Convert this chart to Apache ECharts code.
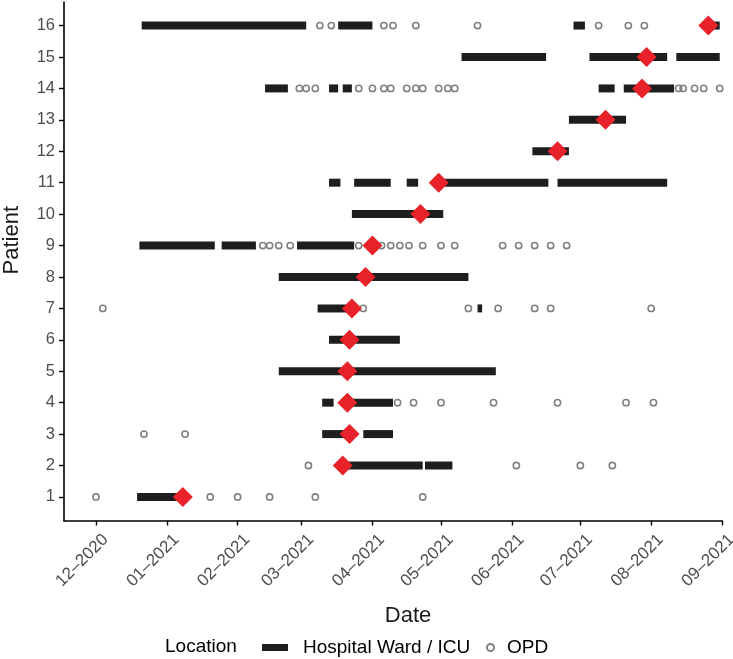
<!DOCTYPE html>
<html><head><meta charset="utf-8">
<script src="https://cdn.jsdelivr.net/npm/echarts@6/dist/echarts.min.js"></script>
<style>html,body{margin:0;padding:0;background:#fff}#c{width:733px;height:659px}</style>
</head><body><div id="c"></div>
<script>
// ---- tick labels / categories ----
const tickDates = ['2020-12-01','2021-01-01','2021-02-01','2021-03-01','2021-04-01','2021-05-01','2021-06-01','2021-07-01','2021-08-01','2021-09-01'];
const tickLabels = ['12–2020','01–2021','02–2021','03–2021','04–2021','05–2021','06–2021','07–2021','08–2021','09–2021'];
const patients = [1,2,3,4,5,6,7,8,9,10,11,12,13,14,15,16];

// ---- Hospital Ward / ICU stays ----
const wardPatient = [16,16,16,16, 15,15,15, 14,14,14,14,14, 13, 12, 11,11,11,11,11, 10, 9,9,9, 8, 7,7, 6, 5, 4,4, 3,3, 2,2, 1];
const wardStart = ['2020-12-21','2021-03-17','2021-06-28','2021-08-24',
  '2021-05-10','2021-07-05','2021-08-12',
  '2021-02-13','2021-03-13','2021-03-19','2021-07-09','2021-07-20',
  '2021-06-26','2021-06-10',
  '2021-03-13','2021-03-24','2021-04-16','2021-04-29','2021-06-21',
  '2021-03-23',
  '2020-12-20','2021-01-25','2021-02-27',
  '2021-02-19',
  '2021-03-08','2021-05-17',
  '2021-03-13','2021-02-19',
  '2021-03-10','2021-03-22',
  '2021-03-10','2021-03-28',
  '2021-03-17','2021-04-24',
  '2020-12-19'];
const wardEnd = ['2021-03-03','2021-04-01','2021-07-03','2021-08-31',
  '2021-06-16','2021-08-08','2021-08-31',
  '2021-02-23','2021-03-17','2021-03-23','2021-07-16','2021-08-11',
  '2021-07-21','2021-06-26',
  '2021-03-18','2021-04-09','2021-04-21','2021-06-17','2021-08-08',
  '2021-05-02',
  '2021-01-22','2021-02-09','2021-03-24',
  '2021-05-13',
  '2021-03-24','2021-05-19',
  '2021-04-13','2021-05-25',
  '2021-03-15','2021-04-10',
  '2021-03-23','2021-04-10',
  '2021-04-23','2021-05-06',
  '2021-01-09'];

// ---- OPD visits ----
const opdPatient = [
  16,16,16,16,16,16,16,16,16,
  14,14,14,14,14,14,14,14,14,14,14,14,14,14,14,14,14,14,
  9,9,9,9,9,9,9,9,9,9,9,9,9,9,9,9,9,
  7,7,7,7,7,7,7,
  4,4,4,4,4,4,4,
  3,3,
  2,2,2,2,
  1,1,1,1,1,1];
const opdDate = [
  '2021-03-09','2021-03-14','2021-04-06','2021-04-10','2021-04-20','2021-05-17','2021-07-09','2021-07-22','2021-07-29',
  '2021-02-28','2021-03-03','2021-03-07','2021-03-26','2021-04-01','2021-04-06','2021-04-09','2021-04-16','2021-04-20','2021-04-23','2021-04-30','2021-05-04','2021-05-07','2021-08-13','2021-08-15','2021-08-20','2021-08-24','2021-08-31',
  '2021-02-12','2021-02-15','2021-02-19','2021-02-24','2021-03-26','2021-04-05','2021-04-09','2021-04-13','2021-04-17','2021-04-23','2021-05-01','2021-05-07','2021-05-28','2021-06-04','2021-06-11','2021-06-18','2021-06-25',
  '2020-12-04','2021-03-28','2021-05-13','2021-05-26','2021-06-11','2021-06-18','2021-08-01',
  '2021-04-12','2021-04-19','2021-05-01','2021-05-24','2021-06-21','2021-07-21','2021-08-02',
  '2020-12-22','2021-01-09',
  '2021-03-04','2021-06-03','2021-07-01','2021-07-15',
  '2020-12-01','2021-01-20','2021-02-01','2021-02-15','2021-03-07','2021-04-23'];

// ---- red diamond markers ----
const markPatient = [16,15,14,13,12,11,10,9,8,7,6,5,4,3,2,1];
const markDate = ['2021-08-26','2021-07-30','2021-07-28','2021-07-12','2021-06-21','2021-04-30','2021-04-22','2021-04-01','2021-03-29','2021-03-23','2021-03-22','2021-03-21','2021-03-21','2021-03-22','2021-03-19','2021-01-08'];

function D(s){const p=s.split('-').map(Number);return new Date(p[0],p[1]-1,p[2]).getTime();}
const tickValues = tickDates.map(D);
const FONT = "'Liberation Sans', Arial, Helvetica, sans-serif";

const chart = echarts.init(document.getElementById('c'), null, {renderer:'canvas'});
chart.setOption({
  animation:false,
  backgroundColor:'#fff',
  grid:{left:64,right:11,top:2,bottom:138.5,containLabel:false,outerBoundsMode:'none'},
  xAxis:{
    type:'value', min:D('2020-11-17'), max:D('2021-09-01'),
    name:'Date', nameLocation:'middle', nameGap:84,
    nameTextStyle:{fontSize:22,color:'#1a1a1a',fontFamily:FONT,padding:[0,0,0,30]},
    axisLine:{show:true,lineStyle:{color:'#000',width:1.6}},
    axisTick:{show:true,length:5,lineStyle:{color:'#000',width:1.4},customValues:tickValues},
    axisLabel:{customValues:tickValues,rotate:45,margin:7,fontSize:17,color:'#4d4d4d',fontFamily:FONT,
      verticalAlign:'top',padding:[5,0,0,0],
      formatter:function(v){const i=tickValues.indexOf(v);return i>=0?tickLabels[i]:'';}},
    splitLine:{show:false}
  },
  yAxis:{
    type:'value', min:0.25, max:16.75,
    name:'Patient', nameLocation:'middle', nameGap:41,
    nameTextStyle:{fontSize:22,color:'#1a1a1a',fontFamily:FONT,padding:[0,0,0,42]},
    axisLine:{show:true,lineStyle:{color:'#000',width:1.6}},
    axisTick:{show:true,length:5,lineStyle:{color:'#000',width:1.4},customValues:patients},
    axisLabel:{customValues:patients,margin:9,fontSize:16.5,color:'#4d4d4d',fontFamily:FONT},
    splitLine:{show:false}
  },
  legend:[
    {data:['Hospital Ward / ICU'],left:262,top:638,padding:0,itemWidth:26,itemHeight:7,icon:'rect',
      textStyle:{fontSize:19,color:'#000',fontFamily:FONT,padding:[0,0,0,10]}},
    {data:[{name:'OPD',icon:'circle'}],left:486,top:638,padding:0,itemWidth:7,itemHeight:7,
      textStyle:{fontSize:19,color:'#000',fontFamily:FONT,padding:[0,0,0,8]}}
  ],
  graphic:[{type:'text',x:165,y:647,style:{text:'Location',fontSize:19,fontFamily:FONT,fill:'#000',verticalAlign:'middle'}}],
  series:[
    {
      name:'Hospital Ward / ICU', type:'custom', z:2,
      itemStyle:{color:'#1e1e1e'},
      encode:{x:[0,1],y:2},
      data:wardPatient.map((p,i)=>[D(wardStart[i]),D(wardEnd[i]),p]),
      renderItem:function(params,api){
        const y=api.value(2);
        const s=api.coord([api.value(0),y]);
        const e=api.coord([api.value(1),y]);
        const h=8;
        return {type:'rect',shape:{x:s[0],y:s[1]-h/2,width:e[0]-s[0],height:h},style:{fill:'#1e1e1e'}};
      }
    },
    {
      name:'OPD', type:'scatter', z:3, symbol:'circle', symbolSize:6.2,
      itemStyle:{color:'rgba(255,255,255,0)',borderColor:'#808080',borderWidth:1.6,opacity:1},
      emphasis:{disabled:true},
      data:opdPatient.map((p,i)=>[D(opdDate[i]),p])
    },
    {
      name:'Marker', type:'scatter', z:4, symbol:'diamond', symbolSize:20,
      itemStyle:{color:'#e8222a',opacity:1},
      emphasis:{disabled:true},
      data:markPatient.map((p,i)=>[D(markDate[i]),p])
    }
  ]
});
</script></body></html>
